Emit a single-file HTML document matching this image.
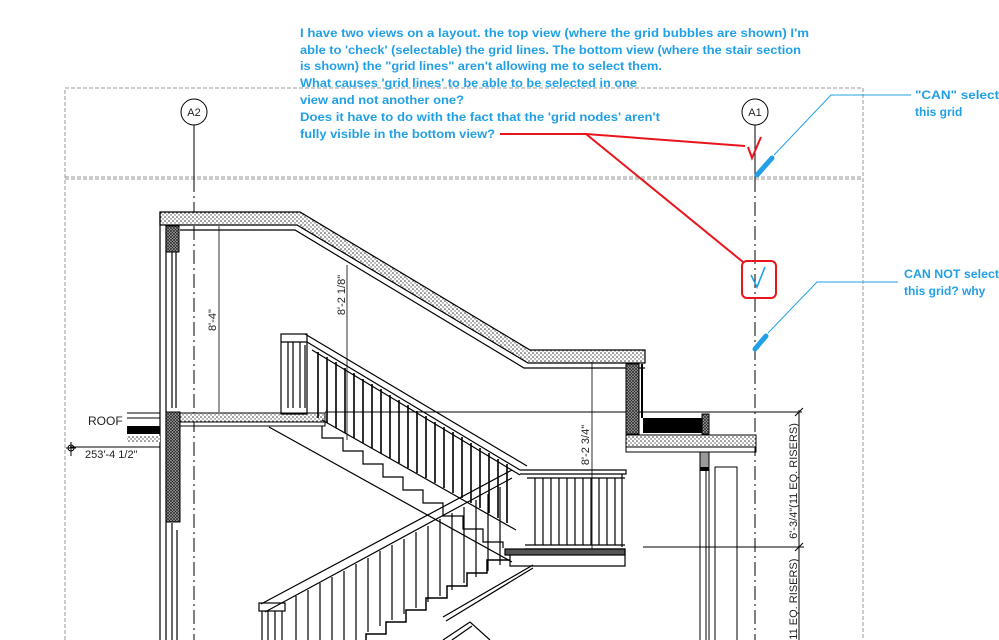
<!DOCTYPE html>
<html><head><meta charset="utf-8"><style>
html,body{margin:0;padding:0;background:#fff;}
svg{display:block}
.t{font-family:"Liberation Sans Narrow","Liberation Sans",sans-serif;font-weight:bold;font-size:12px;fill:#22a0e6}
.d{font-family:"Liberation Sans Narrow","Liberation Sans",sans-serif;font-size:11px;fill:#222}
</style></head><body>
<svg width="999" height="640" viewBox="0 0 999 640" xmlns="http://www.w3.org/2000/svg">
<defs>
<pattern id="dots" width="4" height="4" patternUnits="userSpaceOnUse">
<rect width="4" height="4" fill="#fff"/><circle cx="1" cy="1" r=".8" fill="#333"/><circle cx="3" cy="3" r=".7" fill="#555"/>
</pattern>
<pattern id="xh" width="3" height="3" patternUnits="userSpaceOnUse">
<rect width="3" height="3" fill="#aaa"/><path d="M0 0L3 3M3 0L0 3" stroke="#222" stroke-width=".7"/>
</pattern>
</defs>

<g stroke="#999" stroke-width="1" stroke-dasharray="4,2" fill="none">
<path d="M65 640V88H863V640"/>
<path d="M65 177H863M65 179H863"/>
</g>

<g stroke="#000" stroke-width="1" fill="#fff">
<circle cx="194" cy="112" r="13"/>
<circle cx="755" cy="112" r="13"/>
</g>
<text x="194" y="116" text-anchor="middle" class="d">A2</text>
<text x="755" y="116" text-anchor="middle" class="d">A1</text>
<g stroke="#000" stroke-width="1">
<path d="M194 125V178M755 125V178"/>
<path d="M194 178V640M755 178V640" stroke-dasharray="14,4,2,4"/>
</g>

<polygon points="160,212 300,212 530,350 645,350 645,363 528,363 297,225 160,225" fill="url(#dots)" stroke="#000" stroke-width="1.2"/>
<path d="M180 230H295L524 368H645" fill="none" stroke="#000" stroke-width="1.2"/>
<g stroke="#000" stroke-width="1.2" fill="none">
<path d="M160 212V640M166 225V640M172 252V408M176 252V408M172 523V640M177 530V640"/>
</g>
<rect x="166" y="226" width="13" height="26" fill="url(#xh)" stroke="#000"/>
<rect x="166" y="412" width="14" height="110" fill="url(#xh)" stroke="#000"/>
<rect x="180" y="413" width="145" height="9" fill="url(#dots)" stroke="#000"/>
<path d="M180 426H325V422" stroke="#000" fill="none"/>
<path d="M127 413H160M127 418H160" stroke="#000"/>
<rect x="127" y="426" width="33" height="8" fill="#000"/>
<rect x="127" y="436" width="33" height="6" fill="url(#dots)"/>
<path d="M70 447H160" stroke="#000"/>
<text x="88" y="425" class="d" style="font-size:12px">ROOF</text>
<circle cx="71" cy="448" r="3" fill="none" stroke="#000"/><path d="M66 448H76M71 442V456" stroke="#000"/>
<text x="85" y="458" class="d">253'-4 1/2"</text>
<path d="M325 412H802" stroke="#000" stroke-width="1"/>

<rect x="626" y="364" width="13" height="70" fill="url(#xh)" stroke="#000"/>
<path d="M642 364V418" stroke="#000" stroke-width="2"/>
<rect x="643" y="418" width="59" height="15" fill="#000"/>
<rect x="702" y="414" width="7" height="20" fill="url(#xh)" stroke="#000"/>
<rect x="626" y="435" width="130" height="12" fill="url(#dots)" stroke="#000"/>
<path d="M626 447V452H756V447" stroke="#000" fill="none"/>
<g stroke="#000" fill="none">
<path d="M700 452V640M706 452V640M709 470V640"/>
<rect x="715" y="467" width="22" height="180"/>
</g>
<rect x="700" y="452" width="9" height="18" fill="#999" stroke="#000"/>
<rect x="700" y="467" width="9" height="4" fill="#000"/>

<g stroke="#000" stroke-width="1">
<path d="M799 410V640M643 547H804M795 416L803 408M795 551L803 543"/>
</g>
<text transform="translate(797,481) rotate(-90)" text-anchor="middle" class="d">6'-3/4"(11 EQ. RISERS)</text>
<text transform="translate(797,601) rotate(-90)" text-anchor="middle" class="d">(11 EQ. RISERS)</text>

<g stroke="#000" stroke-width=".8">
<path d="M219 226V412M347 265V440M592 362V552"/>
</g>
<text transform="translate(216,320) rotate(-90)" text-anchor="middle" class="d">8'-4"</text>
<text transform="translate(345,295) rotate(-90)" text-anchor="middle" class="d">8'-2 1/8"</text>
<text transform="translate(589,445) rotate(-90)" text-anchor="middle" class="d">8'-2 3/4"</text>

<g stroke="#000" stroke-width="1.2" fill="none">
<rect x="281" y="334" width="26" height="80"/>
<path d="M281 342H307M288 342V408M293 342V408M300 342V408M305 345V408"/>
<path d="M305 334L527 466M307 342L520 470M312 350L520 475"/>
<path d="M269 427L512 562"/>
<path d="M322 426V438H343V451H363V464H383V477H403V490H423V503H443V516H463V529H483V542H503V548"/>
<path d="M322 420L516 530"/>
</g>
<g stroke="#000" stroke-width="1.6">
<path d="M318 352V418M327 357V423M336 362V428M345 368V433M354 373V438M363 379V443M372 384V448M381 389V453M390 395V458M399 400V463M408 405V468M417 411V473M426 416V478M435 422V483M444 427V488M453 432V493M462 437V498M471 443V503M480 448V508M489 453V513M498 459V518M507 464V523"/>
</g>

<g stroke="#000" stroke-width="1.2" fill="none">
<path d="M520 470H626V474H520M527 478H625"/>
<path d="M535 478V545M543 478V545M551 478V545M559 478V545M567 478V545M575 478V545M583 478V545M591 478V545M599 478V545M607 478V545M615 478V545M622 474V547"/>
<path d="M525 545H625M525 549H625"/>
<rect x="505" y="549" width="120" height="6" fill="#555"/>
<path d="M510 555V566H625V549"/>
<path d="M533 565L443 617M533 568L446 621"/>
</g>

<g stroke="#000" stroke-width="1.2" fill="none">
<path d="M512 470L261 604M512 478L265 612"/>
<rect x="259" y="603" width="26" height="8"/>
<path d="M262 611V640M268 611V640M275 611V640M282 611V640"/>
<path d="M510 560H487V573H467V586H447V598H426V610H406V622H386V634H366V640" stroke-width="1.5"/>
<path d="M500 487V565M488 494V571M476 500V577M464 507V583M452 513V590M440 519V596M428 526V602M416 532V608M404 539V614M392 545V620M380 551V626M368 558V632M356 564V640M344 571V640M332 577V640M320 583V640M308 590V640M296 596V640"/>
<path d="M443 640L470 622L490 640M452 640L472 626"/>
</g>

<g class="t">
<text x="300" y="37" textLength="509" lengthAdjust="spacingAndGlyphs">I have two views on a layout. the top view (where the grid bubbles are shown) I'm</text>
<text x="300" y="54" textLength="501" lengthAdjust="spacingAndGlyphs">able to 'check' (selectable) the grid lines. The bottom view (where the stair section</text>
<text x="300" y="70" textLength="362" lengthAdjust="spacingAndGlyphs">is shown) the "grid lines" aren't allowing me to select them.</text>
<text x="300" y="87" textLength="337" lengthAdjust="spacingAndGlyphs">What causes 'grid lines' to be able to be selected in one</text>
<text x="300" y="104" textLength="164" lengthAdjust="spacingAndGlyphs">view and not another one?</text>
<text x="300" y="121" textLength="360" lengthAdjust="spacingAndGlyphs">Does it have to do with the fact that the 'grid nodes' aren't</text>
<text x="300" y="138" textLength="195" lengthAdjust="spacingAndGlyphs">fully visible in the bottom view?</text>
<text x="915" y="99" textLength="84" lengthAdjust="spacingAndGlyphs">"CAN" select</text>
<text x="915" y="116">this grid</text>
<text x="904" y="278" textLength="95" lengthAdjust="spacingAndGlyphs">CAN NOT select</text>
<text x="904" y="295">this grid? why</text>
</g>
<g stroke="#e8161c" stroke-width="2" fill="none">
<path d="M500 134H586L745 146M586 134L743 262"/>
<path d="M748 147L752 158L761 137"/>
<rect x="742" y="261" width="34" height="37" rx="5" ry="5"/>
</g>
<path d="M751 275L757 287L765 267" stroke="#22a0e6" stroke-width="1.6" fill="none"/>
<g stroke="#22a0e6" fill="none">
<path d="M911 95H831L774 155M898 282H817L768 333" stroke-width="1"/>
<path d="M772 158L757 175M766 336L755 349" stroke-width="5" stroke-linecap="round"/>
</g>
</svg>
</body></html>
